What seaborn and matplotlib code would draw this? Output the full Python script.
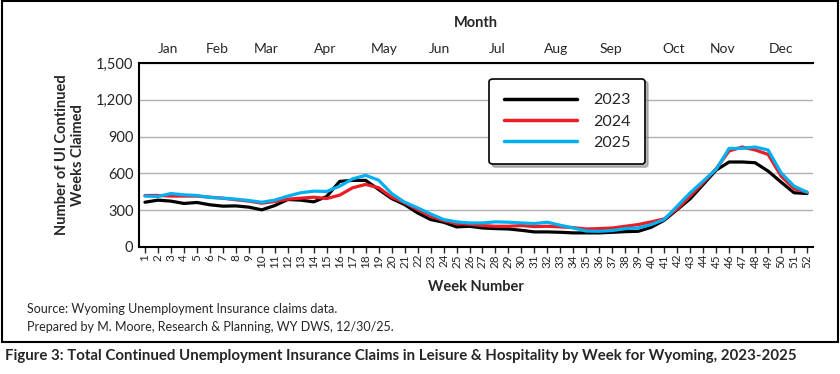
import pandas as pd
import matplotlib
matplotlib.use("Agg")
import matplotlib.pyplot as plt
import matplotlib.ticker as mticker
from matplotlib.patches import Rectangle
import seaborn as sns

# --- data ---
weeks = list(range(1, 53))
claims_2023 = [365, 382, 374, 355, 363, 344, 333, 335, 325, 303, 338, 387, 382, 368, 412, 535,
               543, 543, 469, 395, 346, 278, 224, 202, 164, 169, 155, 150, 147, 136, 123, 123,
               120, 115, 115, 115, 120, 125, 128, 161, 218, 305, 393, 510, 627, 693, 693, 687,
               619, 529, 442, 436]
claims_2024 = [420, 420, 415, 415, 415, 406, 398, 385, 374, 357, 371, 390, 398, 406, 395, 423,
               483, 510, 483, 406, 360, 305, 251, 215, 191, 185, 175, 169, 169, 175, 166, 169,
               164, 158, 147, 150, 155, 169, 183, 205, 229, 311, 415, 524, 638, 783, 815, 791,
               755, 578, 475, 447]
claims_2025 = [415, 412, 436, 425, 420, 404, 398, 390, 379, 365, 382, 415, 442, 455, 453, 496,
               556, 584, 545, 436, 365, 319, 270, 224, 205, 196, 196, 205, 202, 196, 191, 202,
               177, 155, 130, 128, 134, 150, 155, 183, 224, 333, 442, 537, 633, 804, 804, 815,
               791, 605, 496, 447]
months = ["Jan", "Feb", "Mar", "Apr", "May", "Jun", "Jul", "Aug", "Sep", "Oct", "Nov", "Dec"]
month_pos = [2.8, 6.6, 10.3, 14.9, 19.4, 23.7, 28.1, 32.7, 36.9, 41.7, 45.5, 50.0]
y_ticks = [0, 300, 600, 900, 1200, 1500]

df = pd.DataFrame({
    "Week": weeks * 3,
    "Claims": claims_2023 + claims_2024 + claims_2025,
    "Year": ["2023"] * 52 + ["2024"] * 52 + ["2025"] * 52,
})

sns.set_style("white")
plt.rcParams["font.family"] = ["Lato", "DejaVu Sans"]

fig = plt.figure(figsize=(8.4, 3.74), dpi=100)
ax = fig.add_axes([139 / 840, (374 - 247) / 374, 674 / 840, 184 / 374])

palette = {"2023": "#000000", "2024": "#ED1C24", "2025": "#00B0F0"}
sns.lineplot(data=df, x="Week", y="Claims", hue="Year", palette=palette,
             linewidth=2.3, ax=ax)

ax.set_xlim(0.54, 52.46)
ax.set_ylim(0, 1500)
ax.set_yticks(y_ticks)
ax.yaxis.set_major_formatter(mticker.StrMethodFormatter("{x:,.0f}"))
ax.set_xticks(weeks)
ax.set_xticklabels([str(w) for w in weeks], rotation=90, fontsize=8.5)
ax.tick_params(axis="x", direction="out", length=4, width=1, pad=1, bottom=True)
ax.tick_params(axis="y", labelsize=10.5, length=0, pad=4)
ax.grid(axis="y", color="#b0b0b0", linewidth=1)
ax.set_axisbelow(True)
for s in ["left", "bottom", "top"]:
    ax.spines[s].set_color("black")
    ax.spines[s].set_linewidth(1.5)
ax.spines["right"].set_visible(False)
ax.set_xlabel("Week Number", fontsize=10.5, fontweight="bold", labelpad=9)
ax.set_ylabel("Number of UI Continued\nWeeks Claimed", fontsize=10.5, fontweight="bold",
              labelpad=8)

top = ax.secondary_xaxis("top")
top.set_xticks(month_pos)
top.set_xticklabels(months, fontsize=10)
top.tick_params(length=0, pad=6)
top.spines["top"].set_visible(False)
top.set_xlabel("Month", fontsize=10.5, fontweight="bold", labelpad=11)

leg = ax.legend(loc="upper left", bbox_to_anchor=(0.52, 0.915), fontsize=11.5,
                frameon=True, fancybox=True, shadow={"color": "0.55", "alpha": 0.6},
                handlelength=4.6, labelspacing=0.45, borderpad=0.9, handletextpad=1.0,
                borderaxespad=0)
leg.get_frame().set_edgecolor("black")
leg.get_frame().set_linewidth(1.2)
for line in leg.get_lines():
    line.set_linewidth(2.5)

fig.text(27 / 840, (374 - 309) / 374, "Source: Wyoming Unemployment Insurance claims data.",
         fontsize=9, va="center")
fig.text(27 / 840, (374 - 327) / 374, "Prepared by M. Moore, Research & Planning, WY DWS, 12/30/25.",
         fontsize=9, va="center")
fig.text(5 / 840, (374 - 356) / 374,
         "Figure 3: Total Continued Unemployment Insurance Claims in Leisure & Hospitality by Week for Wyoming, 2023-2025",
         fontsize=10.8, fontweight="bold", va="center")

fig.patches.append(Rectangle((0.002, (374 - 342) / 374), 0.996, 341 / 374,
                             transform=fig.transFigure, fill=False,
                             edgecolor="black", linewidth=1.5))

fig.savefig("out.png", dpi=100)
